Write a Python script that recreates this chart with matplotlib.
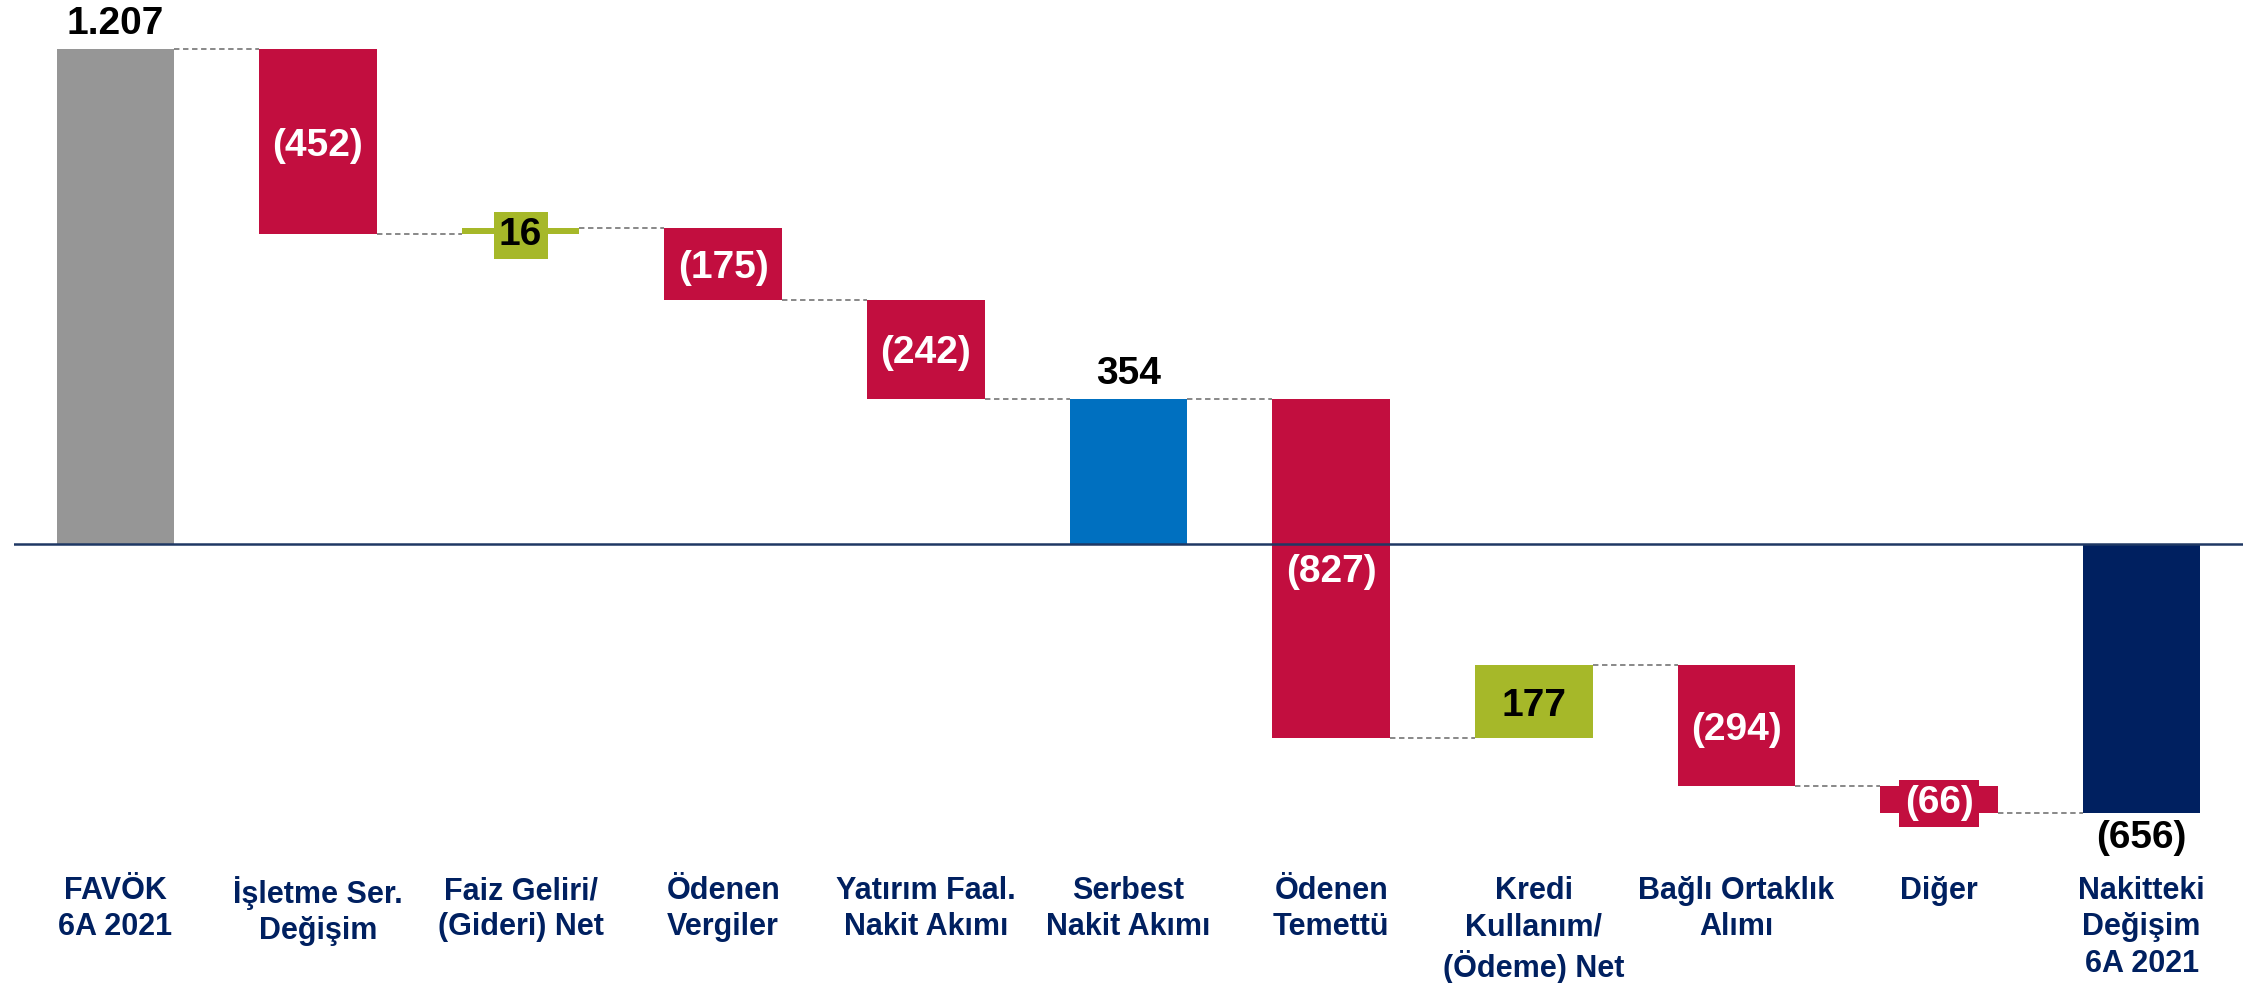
import matplotlib.pyplot as plt
import matplotlib.transforms as mtransforms
import numpy as np

plt.rcParams["font.family"] = ["Liberation Sans", "DejaVu Sans"]

# ── Data ─────────────────────────────────────────────────────────────────────
categories = [
    "FAVÖK\n6A 2021",
    "İşletme Ser.\nDeğişim",
    "Faiz Geliri/\n(Gideri) Net",
    "Ödenen\nVergiler",
    "Yatırım Faal.\nNakit Akımı",
    "Serbest\nNakit Akımı",
    "Ödenen\nTemettü",
    "Kredi\nKullanım/\n(Ödeme) Net",
    "Bağlı Ortaklık\nAlımı",
    "Diğer",
    "Nakitteki\nDeğişim\n6A 2021",
]
values = [1207, -452, 16, -175, -242, 354, -827, 177, -294, -66, -656]
kinds = ["start", "delta", "delta", "delta", "delta", "subtotal",
         "delta", "delta", "delta", "delta", "end"]

GRAY  = "#969696"
RED   = "#C20E3F"
GREEN = "#A6B829"
BLUE  = "#0070C0"
NAVY  = "#002060"
LINE  = "#1F3864"
DASH  = "#7F7F7F"


def fmt(v):
    s = f"{abs(v):,}".replace(",", ".")
    return f"({s})" if v < 0 else s


# ── Waterfall geometry ───────────────────────────────────────────────────────
bottoms, heights, colors, levels = [], [], [], []
running = 0
for v, k in zip(values, kinds):
    if k in ("start", "subtotal", "end"):
        bottoms.append(0)
        heights.append(v)
        running = v
        colors.append({"start": GRAY, "subtotal": BLUE, "end": NAVY}[k])
    else:
        bottoms.append(running)
        heights.append(v)
        running += v
        colors.append(GREEN if v > 0 else RED)
    levels.append(running)

x = np.arange(len(values))
width = 0.58

# ── Figure ───────────────────────────────────────────────────────────────────
fig = plt.figure(figsize=(22.5, 9.83), dpi=100)
ax = fig.add_axes([14 / 2250, 0, 2229 / 2250, 1])
ax.set_xlim(-0.5, len(values) - 0.5)
ax.set_ylim(-1070.5, 1326.5)
ax.axis("off")

ax.bar(x, heights, width=width, bottom=bottoms, color=colors, zorder=2)
ax.axhline(0, color=LINE, lw=1.8, zorder=3)

# dashed connectors between consecutive bars
for i in range(len(values) - 1):
    ax.hlines(levels[i], x[i] + width / 2, x[i + 1] - width / 2,
              colors=DASH, lw=1.3, linestyles=(0, (3, 2)), zorder=1)

# value labels
for i, (v, k) in enumerate(zip(values, kinds)):
    if k in ("start", "subtotal", "end"):
        top = max(bottoms[i], bottoms[i] + v)
        low = min(bottoms[i], bottoms[i] + v)
        if v >= 0:
            ax.annotate(fmt(v), (x[i], top), xytext=(0, 5), textcoords="offset points",
                        ha="center", va="bottom", fontsize=28, fontweight="bold", color="black")
        else:
            ax.annotate(fmt(v), (x[i], low), xytext=(0, -5), textcoords="offset points",
                        ha="center", va="top", fontsize=28, fontweight="bold", color="black")
    else:
        mid = bottoms[i] + v / 2
        tc = "black" if v > 0 else "white"
        kw = {}
        if abs(v) < 100:
            kw["bbox"] = dict(boxstyle="square,pad=0.14", fc=colors[i], ec="none")
        ax.text(x[i], mid, fmt(v), ha="center", va="center_baseline", fontsize=28,
                fontweight="bold", color=tc, zorder=4, **kw)

# category labels below the chart
trans = mtransforms.blended_transform_factory(ax.transData, fig.transFigure)
for i, lab in enumerate(categories):
    ax.text(x[i], 1 - 876 / 983, lab, transform=trans, ha="center", va="top",
            fontsize=22, fontweight="bold", color=NAVY, linespacing=1.28)

fig.savefig("out.png", dpi=100, facecolor="white")
